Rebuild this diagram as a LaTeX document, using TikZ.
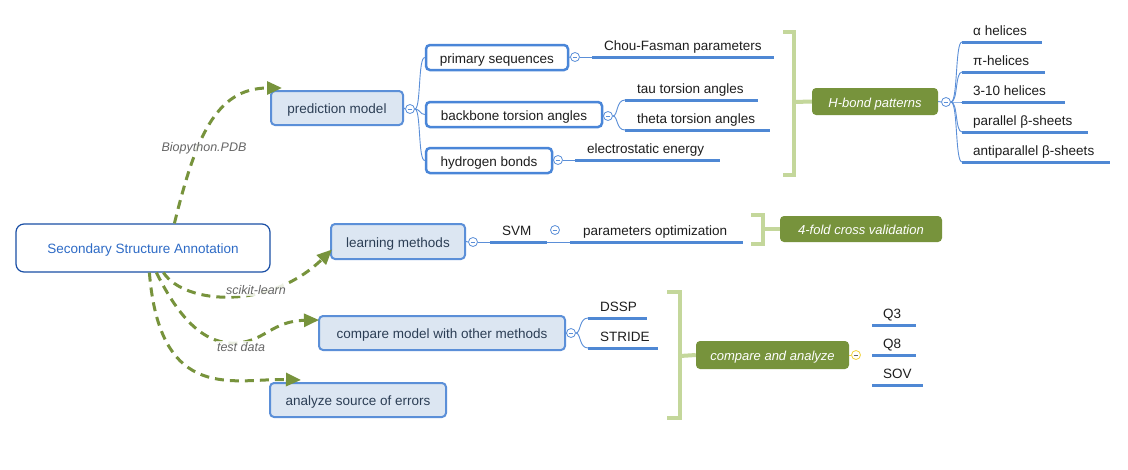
\documentclass[tikz,border=0pt]{standalone}
\usepackage{fontspec}
\setmainfont{Liberation Sans}
\usetikzlibrary{arrows.meta,calc}
\definecolor{gr}{HTML}{77933C}
\definecolor{brk}{HTML}{C4D79B}
\definecolor{bla}{HTML}{5B8FD8}
\definecolor{blb}{HTML}{4A86D8}
\definecolor{bfa}{HTML}{DCE6F2}
\definecolor{txa}{HTML}{2C3E55}
\definecolor{txb}{HTML}{1E1E1E}
\definecolor{ulc}{HTML}{4F88D4}
\definecolor{mainb}{HTML}{1A4FA5}
\definecolor{maint}{HTML}{2E6BC6}
\definecolor{lbl}{HTML}{666666}
\definecolor{yel}{HTML}{F2D43C}
\tikzset{
  box/.style={rounded corners=4pt, inner sep=0pt, align=center, text height=11.5pt, text depth=0pt},
  lone/.style={box, draw=bla, fill=bfa, line width=2pt, text=txa},
  ltwo/.style={box, draw=blb, fill=white, line width=2.5pt, text=txb},
  gbox/.style={box, fill=gr, text=white, font=\fontsize{13}{15}\selectfont\itshape},
  leaf/.style={inner sep=0pt, anchor=base west, text=txb},
  ul/.style={draw=ulc, line width=3pt},
  thinb/.style={draw=bla, line width=0.9pt},
  brack/.style={draw=brk, line width=4pt},
  cc/.style={circle, draw=bla, fill=white, line width=0.8pt, minimum size=9pt, inner sep=0pt,
    path picture={\draw[bla, line width=0.7pt] ([xshift=-2.4pt]path picture bounding box.center) -- ([xshift=2.4pt]path picture bounding box.center);}},
  ccy/.style={cc, draw=yel, path picture={\draw[lbl, line width=0.6pt] ([xshift=-2.4pt]path picture bounding box.center) -- ([xshift=2.4pt]path picture bounding box.center);}},
  dcurve/.style={draw=gr, line width=3pt, dash pattern=on 9pt off 6pt, -{Triangle[length=15pt,width=13pt]}},
  clabel/.style={text=lbl, font=\fontsize{12.5}{14}\selectfont\itshape, fill=white, fill opacity=0.85, text opacity=1, inner sep=1.5pt},
}
\begin{document}
\begin{tikzpicture}[x=1pt,y=-1pt, font=\fontsize{13.5}{16}\selectfont]
\useasboundingbox[fill=white] (0,0) rectangle (1128,469);

% main and level-1 nodes
\node[box, draw=mainb, line width=1.2pt, rounded corners=8pt, text=maint, minimum width=254pt, minimum height=48pt] (main) at (143,248) {Secondary Structure Annotation};
\node[lone, minimum width=132pt, minimum height=34pt] (pred) at (337,108) {prediction model};
\node[lone, minimum width=134pt, minimum height=35pt] (learn) at (398,241.5) {learning methods};
\node[lone, minimum width=246pt, minimum height=34pt] (comp) at (442,333) {compare model with other methods};
\node[lone, minimum width=176pt, minimum height=34pt] (anal) at (358,400) {analyze source of errors};

% level-2 nodes
\node[ltwo, minimum width=142pt, minimum height=25pt] (prim) at (497,57.5) {primary sequences};
\node[ltwo, minimum width=176pt, minimum height=25pt] (back) at (514,114.5) {backbone torsion angles};
\node[ltwo, minimum width=126pt, minimum height=25pt] (hyd) at (489,160.5) {hydrogen bonds};

% collapse circles
\node[cc] (cpred) at (410,109) {};
\node[cc] (cprim) at (575,57) {};
\node[cc] (cback) at (608,116) {};
\node[cc] (chyd) at (558,160) {};
\node[cc] (chb) at (946,102) {};
\node[cc] (clearn) at (473,242) {};
\node[cc] (csvm) at (555,230) {};
\node[cc] (ccomp) at (571,333) {};
\node[ccy] (cca) at (856,355) {};

% branches from prediction model
\draw[thinb] (pred.east) -- (cpred.west);
\draw[thinb] (cpred.east) .. controls (421,109) and (418,57.5) .. (prim.west);
\draw[thinb] (cpred.east) .. controls (420,109) and (420,114.5) .. (back.west);
\draw[thinb] (cpred.east) .. controls (421,109) and (418,160.5) .. (hyd.west);

% leaves of primary sequences
\draw[thinb] (prim.east) -- (cprim.west);
\coordinate (chouA) at (592,57); \coordinate (chouB) at (774,57);
\draw[thinb] (cprim.east) -- (chouA);
\draw[ul] (chouA) -- (chouB);
\node[leaf] (chou) at (604,50) {Chou-Fasman parameters};

% leaves of backbone
\draw[thinb] (back.east) -- (cback.west);
\coordinate (tauA) at (625,100); \coordinate (tauB) at (758,100);
\coordinate (thA) at (625,130); \coordinate (thB) at (770,130);
\draw[thinb] (cback.east) .. controls (618,116) and (616,100) .. (tauA);
\draw[thinb] (cback.east) .. controls (618,116) and (616,130) .. (thA);
\draw[ul] (tauA) -- (tauB);
\draw[ul] (thA) -- (thB);
\node[leaf] (tau) at (637,93) {tau torsion angles};
\node[leaf] (theta) at (637,123) {theta torsion angles};

% leaves of hydrogen bonds
\draw[thinb] (hyd.east) -- (chyd.west);
\coordinate (elA) at (575,160); \coordinate (elB) at (720,160);
\draw[thinb] (chyd.east) -- (elA);
\draw[ul] (elA) -- (elB);
\node[leaf] (el) at (587,153) {electrostatic energy};

% bracket 1 and H-bond patterns
\node[gbox, minimum width=126pt, minimum height=27pt] (hb) at (875,101.5) {H-bond patterns};
\draw[brack] (783,32) -- (794,32) -- (794,175) -- (783,175);
\draw[brack] (794,102) -- (hb.west);
\draw[thinb] (hb.east) -- (chb.west);
\foreach \y/\e/\t [count=\i] in {42/1042/{α helices},72/1045/{π-helices},102/1065/{3-10 helices},132/1088/{parallel β-sheets},162/1110/{antiparallel β-sheets}}{
  \coordinate (hA\i) at (962,\y); \coordinate (hB\i) at (\e,\y);
  \draw[thinb] (chb.east) .. controls (958,102) and (955,\y) .. (hA\i);
  \draw[ul] (hA\i) -- (hB\i);
  \node[leaf] (ht\i) at (973,\y-7) {\t};
}

% learning methods leaves
\draw[thinb] (learn.east) -- (clearn.west);
\coordinate (svmA) at (490,242); \coordinate (svmB) at (547,242);
\coordinate (parA) at (570,242); \coordinate (parB) at (743,242);
\draw[thinb] (clearn.east) -- (svmA);
\draw[ul] (svmA) -- (svmB);
\draw[thinb] (svmB) -- (parA);
\draw[ul] (parA) -- (parB);
\node[leaf] (svm) at (502,235) {SVM};
\node[leaf] (par) at (583,235) {parameters optimization};
\node[gbox, minimum width=162pt, minimum height=26pt] (fold) at (861,229) {4-fold cross validation};
\draw[brack] (751,215) -- (763,215) -- (763,244) -- (751,244);
\draw[brack] (763,229) -- (fold.west);

% compare leaves
\draw[thinb] (comp.east) -- (ccomp.west);
\coordinate (dsA) at (588,318); \coordinate (dsB) at (647,318);
\coordinate (stA) at (588,348); \coordinate (stB) at (658,348);
\draw[thinb] (ccomp.east) .. controls (581,333) and (579,318) .. (dsA);
\draw[thinb] (ccomp.east) .. controls (581,333) and (579,348) .. (stA);
\draw[ul] (dsA) -- (dsB);
\draw[ul] (stA) -- (stB);
\node[leaf] (dssp) at (600,311) {DSSP};
\node[leaf] (stride) at (600,341) {STRIDE};
\node[gbox, minimum width=153pt, minimum height=28pt] (ca) at (772.5,355) {compare and analyze};
\draw[brack] (667,292) -- (680,292) -- (680,418) -- (667,418);
\draw[brack] (680,356) -- (ca.west);
\draw[draw=yel, line width=0.6pt] (ca.east) -- (cca.west);
\foreach \y/\e/\t [count=\i] in {325/916/Q3,355/916/Q8,385/923/SOV}{
  \coordinate (qA\i) at (872,\y); \coordinate (qB\i) at (\e,\y);
  \draw[ul] (qA\i) -- (qB\i);
  \node[leaf] (qt\i) at (883,\y-7) {\t};
}

% dashed relationship curves
\draw[dcurve] ([xshift=159pt]main.north west) .. controls (195,140) and (215,88) .. ([xshift=12pt,yshift=2pt]pred.north west);
\draw[dcurve] ([xshift=148pt]main.south west) .. controls (185,305) and (270,310) .. ([xshift=2pt,yshift=-8pt]learn.west);
\draw[dcurve] ([xshift=141pt]main.south west) .. controls (180,320) and (205,345) .. (237,343) .. controls (265,341) and (272,321) .. ([xshift=1pt,yshift=-5pt]comp.north west);
\draw[dcurve] ([xshift=134pt]main.south west) .. controls (160,405) and (235,378) .. ([xshift=32pt,yshift=2pt]anal.north west);
\node[clabel] (lb1) at (204,148) {Biopython.PDB};
\node[clabel] (lb2) at (256,290) {scikit-learn};
\node[clabel] (lb3) at (241,347) {test data};
\end{tikzpicture}
\end{document}
